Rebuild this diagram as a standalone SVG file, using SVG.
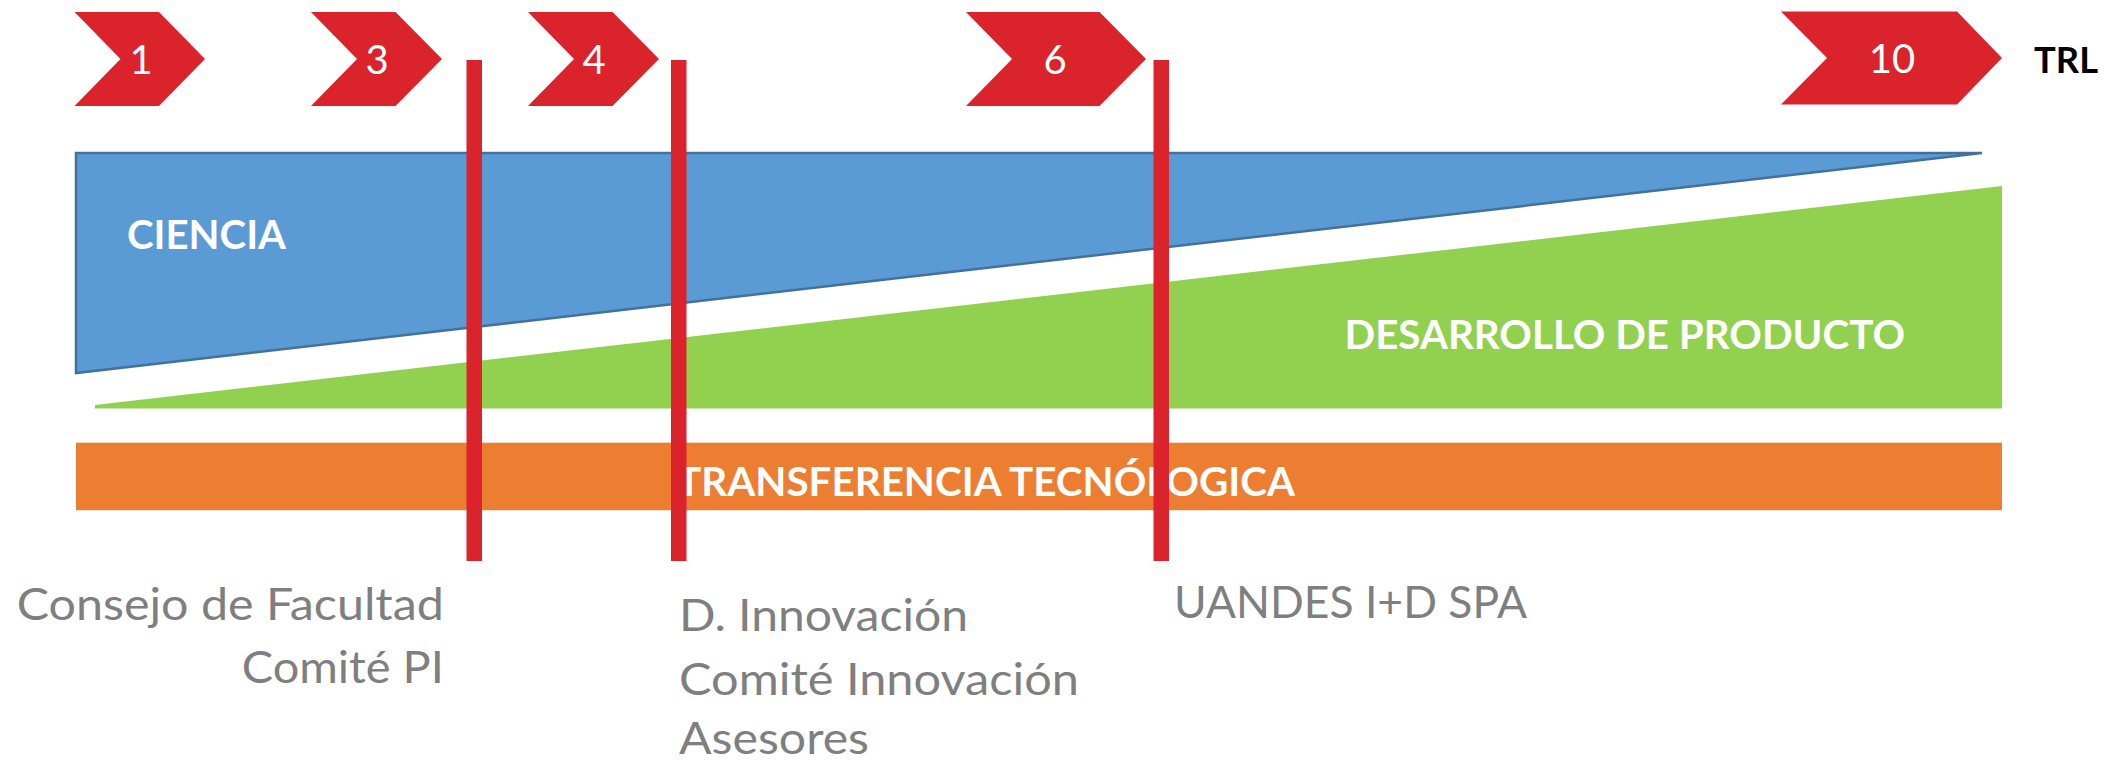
<svg xmlns="http://www.w3.org/2000/svg" width="2113" height="761" viewBox="0 0 2113 761">
  <style>
    .chev { fill: #DA232B; }
    .num { font-family: Lato, "Open Sans", "Liberation Sans", sans-serif; font-size: 40px; fill: #FFFFFF; text-anchor: middle; }
    .band { font-family: Lato, "Open Sans", "Liberation Sans", sans-serif; font-size: 41px; font-weight: bold; fill: #FFFFFF; }
    .lbl { font-family: Lato, "Open Sans", "Liberation Sans", sans-serif; font-size: 45px; fill: #7F7F7F; }
    .trl { font-family: Lato, "Open Sans", "Liberation Sans", sans-serif; font-size: 36px; font-weight: bold; fill: #000000; }
    .bar { fill: #DA232B; }
  </style>
  <rect width="2113" height="761" fill="#FFFFFF"/>

  <g id="trl-1">
    <polygon class="chev" points="74.5,12 159,12 205,59 159,106 74.5,106 120.5,59"/>
    <text class="num" x="141" y="74">1</text>
  </g>
  <g id="trl-3">
    <polygon class="chev" points="311,12 395.5,12 442,59 395.5,106 311,106 357,59"/>
    <text class="num" x="377" y="74">3</text>
  </g>
  <g id="trl-4">
    <polygon class="chev" points="528,12 612.5,12 659,59 612.5,106 528,106 574,59"/>
    <text class="num" x="594" y="74">4</text>
  </g>
  <g id="trl-6">
    <polygon class="chev" points="966,12 1099.5,12 1146,59 1099.5,106 966,106 1012,59"/>
    <text class="num" x="1055" y="74">6</text>
  </g>
  <g id="trl-10">
    <polygon class="chev" points="1781,11.5 1957,11.5 2002,58 1957,104.5 1781,104.5 1827,58"/>
    <text class="num" x="1892" y="73">10</text>
  </g>
  <g id="trl-label">
    <text class="trl" x="2034" y="72.7" textLength="64" lengthAdjust="spacingAndGlyphs">TRL</text>
  </g>

  <g id="ciencia">
    <polygon points="76,153 1982,153 76,373" fill="#5B9BD5" stroke="#41719C" stroke-width="2.5" stroke-linejoin="miter"/>
    <text class="band" x="127" y="249.3" textLength="159" lengthAdjust="spacingAndGlyphs">CIENCIA</text>
  </g>

  <g id="desarrollo">
    <polygon points="95,405 2002,186 2002,408.5 95,408.5" fill="#92D050"/>
    <text class="band" x="1344.5" y="349" textLength="560.5" lengthAdjust="spacingAndGlyphs">DESARROLLO DE PRODUCTO</text>
  </g>

  <g id="transferencia">
    <rect x="76" y="442.7" width="1926" height="67.5" fill="#ED7D31"/>
    <text class="band" x="677" y="495.7" textLength="618" lengthAdjust="spacingAndGlyphs">TRANSFERENCIA TECNÓLOGICA</text>
  </g>

  <g id="connectors">
    <rect class="bar" x="466.5" y="60" width="15.5" height="501"/>
    <rect class="bar" x="671" y="60" width="15.5" height="501"/>
    <rect class="bar" x="1153.5" y="60" width="15.5" height="501"/>
  </g>

  <g id="label-consejo">
    <text class="lbl" x="16.8" y="620" textLength="427" lengthAdjust="spacingAndGlyphs">Consejo de Facultad</text>
    <text class="lbl" x="241.8" y="683.3" textLength="202" lengthAdjust="spacingAndGlyphs">Comité PI</text>
  </g>
  <g id="label-innovacion">
    <text class="lbl" x="679" y="630.7" textLength="289" lengthAdjust="spacingAndGlyphs">D. Innovación</text>
    <text class="lbl" x="679" y="695" textLength="400" lengthAdjust="spacingAndGlyphs">Comité Innovación</text>
    <text class="lbl" x="679" y="754" textLength="190" lengthAdjust="spacingAndGlyphs">Asesores</text>
  </g>
  <g id="label-uandes">
    <text class="lbl" x="1174" y="618.3" textLength="353" lengthAdjust="spacingAndGlyphs">UANDES I+D SPA</text>
  </g>
</svg>
